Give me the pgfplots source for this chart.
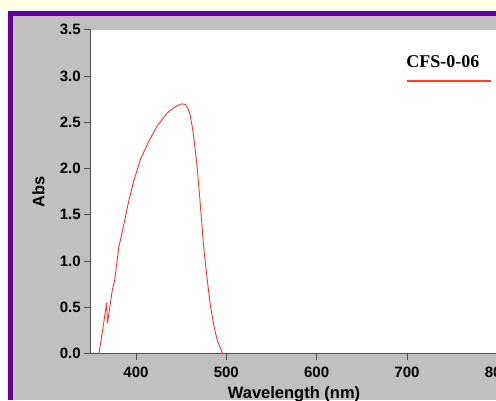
\documentclass[border=0pt]{standalone}
\usepackage{fontspec}
\setmainfont{Liberation Sans}
\newfontfamily\timesfont{Liberation Serif}
\usepackage{pgfplots}
\pgfplotsset{compat=1.18}
\definecolor{bggray}{HTML}{C0C0C0}
\definecolor{framepurple}{HTML}{660099}
\definecolor{paleyellow}{HTML}{FFFFE6}
\definecolor{axisgray}{HTML}{505050}
\definecolor{curvered}{HTML}{FF3333}
\definecolor{legred}{HTML}{FF4020}

\begin{document}
\begin{tikzpicture}[x=1pt,y=1pt]
\useasboundingbox (0,0) rectangle (496,400);
\clip (0,0) rectangle (496,400);
% page background and frame
\fill[white] (0,0) rectangle (496,400);
\fill[paleyellow] (0,391) rectangle (496,400);
\fill[framepurple] (8,0) rectangle (496,389);
\fill[bggray] (13,0) rectangle (496,384);

\begin{axis}[
  at={(100.5,50)}, anchor=south west,
  scale only axis, width=406.5pt, height=324pt,
  xmin=350, xmax=800, ymin=0, ymax=3.5,
  axis x line*=bottom, axis y line*=left,
  axis line style={axisgray, line width=1pt},
  tick style={axisgray, line width=0.8pt},
  tick align=outside, major tick length=6.5pt,
  xtick={400,500,...,800},
  ytick={0,0.5,...,3.5},
  yticklabel style={/pgf/number format/fixed, /pgf/number format/fixed zerofill, /pgf/number format/precision=1},
  xticklabel style={/pgf/number format/1000 sep={}, yshift=-3.5pt},
  /pgf/number format/assume math mode=true,
  ticklabel style={font=\fontsize{15}{15}\selectfont\bfseries},
  xlabel={Wavelength (nm)}, ylabel={Abs},
  label style={font=\fontsize{16.5}{16.5}\selectfont\bfseries},
  xlabel style={yshift=-2pt},
  ylabel style={yshift=8.5pt},
  axis background/.style={fill=white},
]
\addplot[curvered, line width=0.9pt] coordinates {
(359,0) (362,0.18) (365,0.38) (367.5,0.55) (368.5,0.33) (370,0.43)
(373.7,0.68) (376.4,0.79) (381,1.15) (386.7,1.40) (392,1.65) (397.7,1.87)
(405,2.10) (414.5,2.30) (423.5,2.46) (434.5,2.60) (443.9,2.67) (451,2.70)
(455,2.69) (457.5,2.65) (459.7,2.59) (462,2.47) (464,2.34) (467.8,2.01)
(471.5,1.58) (475,1.15) (479,0.79) (482.7,0.50) (486.5,0.29) (490.1,0.14)
(495.7,0.01) (497,0)
};
\end{axis}

% legend
\node[anchor=base, inner sep=0pt, font=\timesfont\bfseries\fontsize{18}{18}\selectfont] at (442.8,332.3) {CFS-0-06};
\draw[legred, line width=1.5pt] (406.7,319) -- (490.7,319);
\end{tikzpicture}
\end{document}
